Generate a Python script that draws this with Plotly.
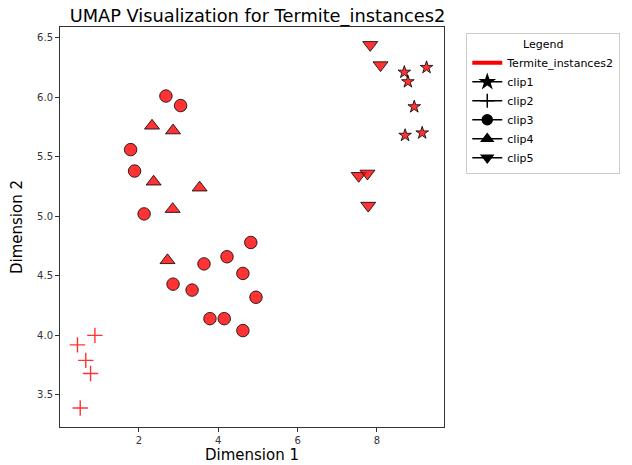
import plotly.graph_objects as go

# clip data (Dimension 1, Dimension 2)
clip1_x = [8.69, 8.78, 9.25, 8.94, 8.71, 9.14]
clip1_y = [6.21, 6.13, 6.25, 5.92, 5.68, 5.70]

clip2_x = [0.89, 0.45, 0.66, 0.78, 0.52]
clip2_y = [4.00, 3.92, 3.79, 3.68, 3.39]

clip3_x = [2.68, 3.05, 1.79, 1.89, 2.13, 4.82, 4.22, 3.64, 4.62, 2.86, 3.34, 4.95, 3.79, 4.15, 4.62]
clip3_y = [6.01, 5.93, 5.56, 5.38, 5.02, 4.78, 4.66, 4.60, 4.52, 4.43, 4.38, 4.32, 4.14, 4.14, 4.04]

clip4_x = [2.33, 2.86, 2.37, 3.53, 2.85, 2.72]
clip4_y = [5.76, 5.72, 5.29, 5.24, 5.06, 4.63]

clip5_x = [7.83, 8.09, 7.54, 7.76, 7.78]
clip5_y = [6.44, 6.27, 5.34, 5.36, 5.09]

clip_names = ["clip1", "clip2", "clip3", "clip4", "clip5"]
symbols = ["star", "cross-thin", "circle", "triangle-up", "triangle-down"]
sizes = [9.5, 11, 12.5, 13, 13]

fill = "rgba(255,0,0,0.8)"
edge = "rgba(0,0,0,0.8)"

fig = go.Figure()

xs = [clip1_x, clip2_x, clip3_x, clip4_x, clip5_x]
ys = [clip1_y, clip2_y, clip3_y, clip4_y, clip5_y]

for x, y, sym, sz in zip(xs, ys, symbols, sizes):
    if sym == "cross-thin":
        marker = dict(symbol=sym, size=sz, line=dict(color=fill, width=1.4))
    else:
        marker = dict(symbol=sym, size=sz, color=fill, line=dict(color=edge, width=1))
    fig.add_trace(go.Scatter(x=x, y=y, mode="markers", marker=marker, showlegend=False))

# legend entries
fig.add_trace(go.Scatter(x=[None], y=[None], mode="lines", name="Termite_instances2",
                         line=dict(color="red", width=4)))
for name, sym in zip(clip_names, symbols):
    fig.add_trace(go.Scatter(
        x=[None], y=[None], mode="lines+markers", name=name,
        line=dict(color="black", width=1.5),
        marker=dict(symbol=sym, size=10, color="black", line=dict(color="black", width=1.5)),
    ))

axis_common = dict(
    showline=True, linecolor="#333", linewidth=1, mirror=True,
    ticks="outside", ticklen=4, tickcolor="#333",
    showgrid=False, zeroline=False, automargin=False,
    tickfont=dict(size=10, color="#333"),
)

fig.update_xaxes(range=[0.01, 9.69], tickvals=[2, 4, 6, 8],
                 title=dict(text="Dimension 1", font=dict(size=15, color="black"), standoff=4),
                 **axis_common)
fig.update_yaxes(range=[3.23, 6.59], tickvals=[3.5, 4.0, 4.5, 5.0, 5.5, 6.0, 6.5],
                 tickformat=".1f",
                 title=dict(text="Dimension 2", font=dict(size=15, color="black"), standoff=10),
                 **axis_common)

fig.update_layout(
    width=632, height=465,
    margin=dict(l=60, r=177, t=27, b=38),
    paper_bgcolor="white", plot_bgcolor="white",
    font=dict(family="DejaVu Sans", color="black"),
    title=dict(text="UMAP Visualization for Termite_instances2", x=(60 + 197.5) / 632,
               xanchor="center", y=1 - 15.5 / 465, yanchor="middle",
               font=dict(size=17.8, color="black")),
    legend=dict(
        x=1.058, y=0.985, xanchor="left", yanchor="top",
        bgcolor="white", bordercolor="#cccccc", borderwidth=1,
        font=dict(size=11), tracegroupgap=0,
        title=dict(text="Legend", side="top center", font=dict(size=11)),
    ),
)

# drop the default page margin so the figure sits at the window's corner
fig.write_html(
    "out.html",
    config={"displayModeBar": False},
    post_script="document.body.style.margin='0';document.body.style.overflow='hidden';",
)
